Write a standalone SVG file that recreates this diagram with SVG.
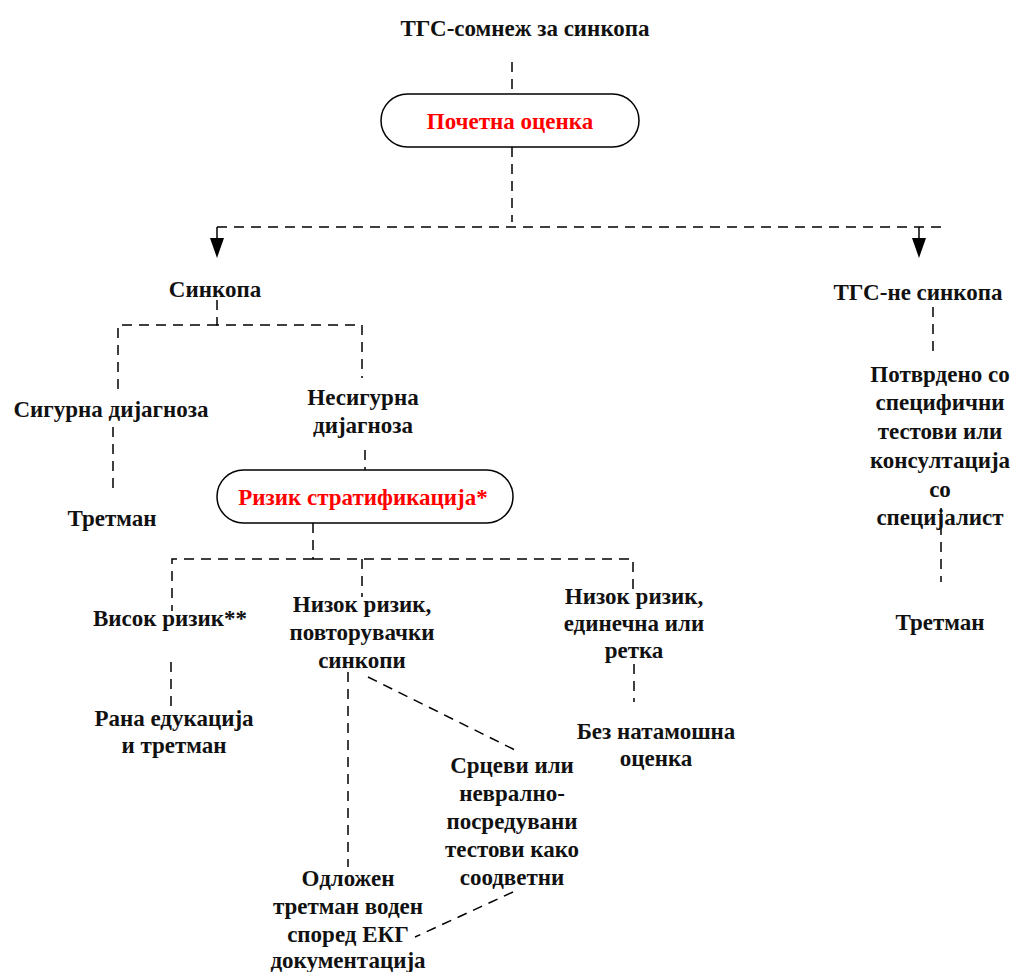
<svg xmlns="http://www.w3.org/2000/svg" width="1019" height="972" viewBox="0 0 1019 972">
<defs>
<style>
text{font-family:"Liberation Serif","Times New Roman",serif;font-weight:bold;font-size:23px;fill:#111;text-anchor:middle;dominant-baseline:central}
.red{fill:#ff0000}
.c{fill:none;stroke:#000;stroke-width:1.5;stroke-dasharray:10 7}
.box{fill:#fff;stroke:#000;stroke-width:1.5}
</style>
</defs>
<rect width="1019" height="972" fill="#fff"/>
<g id="connectors">
<path class="c" d="M512,62 V95"/>
<path class="c" d="M512,147 V222"/>
<path class="c" d="M217,227 H942"/>
<path d="M217,227 V238" stroke="#000" stroke-width="1.5"/>
<path d="M919,227 V238" stroke="#000" stroke-width="1.5"/>
<path d="M210,238 H224 L217,258 Z" fill="#000"/>
<path d="M912,238 H926 L919,258 Z" fill="#000"/>
<path class="c" d="M217,300 V325 H362 V378"/>
<path class="c" d="M217,325 H118 V395"/>
<path class="c" d="M113,427 V490"/>
<path class="c" d="M365,450 V470"/>
<path class="c" d="M313,523 V559"/>
<path class="c" d="M313,559 H172 V611"/>
<path class="c" d="M313,559 H633 V596"/>
<path class="c" d="M362,559 V597"/>
<path class="c" d="M171,662 V708" stroke="#666"/>
<path class="c" d="M634,664 V702"/>
<path class="c" d="M348,672 V867"/>
<path class="c" d="M368,677 L515,750"/>
<path class="c" d="M513,892 L415,937"/>
<path class="c" d="M933,307 V358"/>
<path class="c" d="M941,508 V582"/>
</g>
<g id="title"><text x="525" y="28">ТГС-сомнеж за синкопа</text></g>
<g id="pocetna">
<rect class="box" x="381" y="94" width="258" height="53" rx="26.5"/>
<text class="red" x="510" y="121">Почетна оценка</text>
</g>
<g id="sinkopa"><text x="215" y="289">Синкопа</text></g>
<g id="tgs-ne"><text x="918" y="292">ТГС-не синкопа</text></g>
<g id="sigurna"><text x="111" y="409">Сигурна дијагноза</text></g>
<g id="tretman1"><text x="112" y="518">Третман</text></g>
<g id="nesigurna"><text x="363" y="397">Несигурна</text><text x="363" y="425">дијагноза</text></g>
<g id="rizik">
<rect class="box" x="217" y="470" width="296" height="53" rx="26.5"/>
<text class="red" x="363" y="497">Ризик стратификација*</text>
</g>
<g id="visok"><text x="170" y="618">Висок ризик**</text></g>
<g id="nizok1"><text x="362" y="604">Низок ризик,</text><text x="362" y="632">повторувачки</text><text x="362" y="660">синкопи</text></g>
<g id="nizok2"><text x="634" y="596">Низок ризик,</text><text x="634" y="623">единечна или</text><text x="634" y="650">ретка</text></g>
<g id="rana"><text x="174" y="718">Рана едукација</text><text x="174" y="745">и третман</text></g>
<g id="bez"><text x="656" y="731">Без натамошна</text><text x="656" y="758">оценка</text></g>
<g id="srcevi"><text x="512" y="765">Срцеви или</text><text x="512" y="793">неврално-</text><text x="512" y="821">посредувани</text><text x="512" y="849">тестови како</text><text x="512" y="877">соодветни</text></g>
<g id="odlozen"><text x="348" y="878">Одложен</text><text x="348" y="906">третман воден</text><text x="348" y="934">според ЕКГ</text><text x="348" y="960">документација</text></g>
<g id="potvrdeno"><text x="940" y="374">Потврдено со</text><text x="940" y="402">специфични</text><text x="940" y="431">тестови или</text><text x="940" y="460">консултација</text><text x="940" y="489">со</text><text x="940" y="517">специјалист</text></g>
<g id="tretman2"><text x="940" y="622">Третман</text></g>
</svg>
